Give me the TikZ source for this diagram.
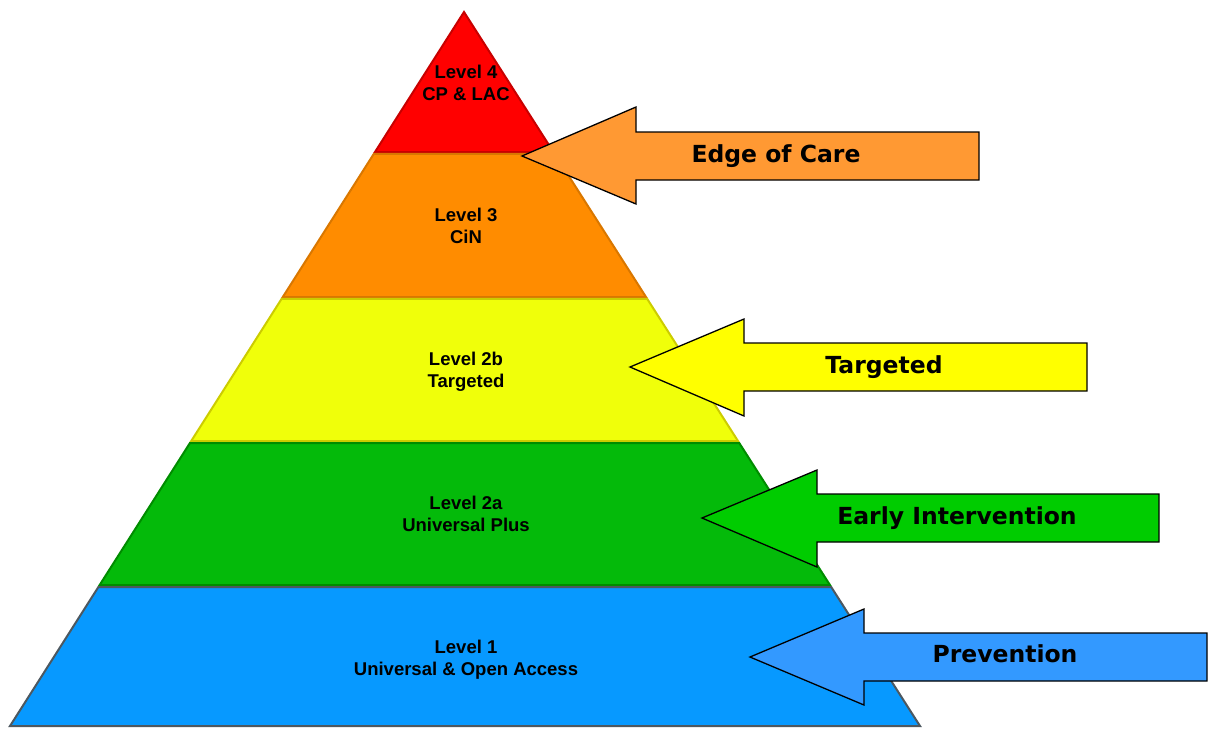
\documentclass[tikz,border=0pt]{standalone}
\usepackage{fontspec}
\usetikzlibrary{calc}
\newfontfamily\labfont{Liberation Sans}
\newfontfamily\arrfont{DejaVu Sans}
\definecolor{redF}{HTML}{FF0000}\definecolor{redD}{HTML}{C80000}
\definecolor{oraF}{HTML}{FF8C00}\definecolor{oraD}{HTML}{D97700}
\definecolor{yelF}{HTML}{F0FF0A}\definecolor{yelD}{HTML}{CCCC00}
\definecolor{grnF}{HTML}{04BA0A}\definecolor{grnD}{HTML}{008C00}
\definecolor{bluF}{HTML}{0799FF}\definecolor{bluD}{HTML}{4D5860}
\definecolor{aOra}{HTML}{FF9933}\definecolor{aYel}{HTML}{FFFF00}
\definecolor{aGrn}{HTML}{00CC00}\definecolor{aBlu}{HTML}{3399FF}
\newcommand\pyrband[4]{%
  \filldraw[band, fill=#3, draw=#4]
    ($(apex)!{(#1-12)/714}!(BL)$) -- ($(apex)!{(#2-12)/714}!(BL)$) --
    ($(apex)!{(#2-12)/714}!(BR)$) -- ($(apex)!{(#1-12)/714}!(BR)$) -- cycle;}
\begin{document}
\begin{tikzpicture}[x=1pt,y=-1pt,
  band/.style={line width=2pt, line join=miter},
  lvl/.style={font=\labfont\bfseries\fontsize{18.5}{22}\selectfont, align=center, inner sep=0pt, anchor=base},
  arrowshape/.style={draw=black, line width=1.3pt, line join=miter},
  arrlabel/.style={font=\arrfont\bfseries\fontsize{23.5}{27}\selectfont, inner sep=0pt, anchor=base}]
\useasboundingbox (0,0) rectangle (1210,729);
\coordinate (apex) at (464,12);
\coordinate (BL) at (10,726);
\coordinate (BR) at (920,726);
% bands
\filldraw[band, fill=redF, draw=redD] (apex) -- ($(apex)!{140/714}!(BL)$) -- ($(apex)!{140/714}!(BR)$) -- cycle;
\pyrband{154}{297}{oraF}{oraD}
\pyrband{299}{441}{yelF}{yelD}
\pyrband{443}{585}{grnF}{grnD}
\pyrband{587}{726}{bluF}{bluD}
% level labels (anchor = baseline of the last line)
\node[lvl] (l4) at (466,100) {Level 4\\CP \& LAC};
\node[lvl] (l3) at (466,243) {Level 3\\CiN};
\node[lvl] (l2b) at (466,387) {Level 2b\\Targeted};
\node[lvl] (l2a) at (466,531) {Level 2a\\Universal Plus};
\node[lvl] (l1) at (466,675) {Level 1\\Universal \& Open Access};
% arrows
\filldraw[arrowshape, fill=aOra] (522,156) -- (636,107) -- (636,132) -- (979,132) -- (979,180) -- (636,180) -- (636,204) -- cycle;
\filldraw[arrowshape, fill=aYel] (630,367) -- (744,319) -- (744,343) -- (1087,343) -- (1087,391) -- (744,391) -- (744,416) -- cycle;
\filldraw[arrowshape, fill=aGrn] (702,518) -- (817,470) -- (817,494) -- (1159,494) -- (1159,542) -- (817,542) -- (817,567) -- cycle;
\filldraw[arrowshape, fill=aBlu] (750,657) -- (864,609) -- (864,633) -- (1207,633) -- (1207,681) -- (864,681) -- (864,705) -- cycle;
\node[arrlabel] (eoc) at (776,162) {Edge of Care};
\node[arrlabel] (tg) at (884,373) {Targeted};
\node[arrlabel] (ei) at (957,524) {Early Intervention};
\node[arrlabel] (pv) at (1005,662) {Prevention};
\end{tikzpicture}
\end{document}
